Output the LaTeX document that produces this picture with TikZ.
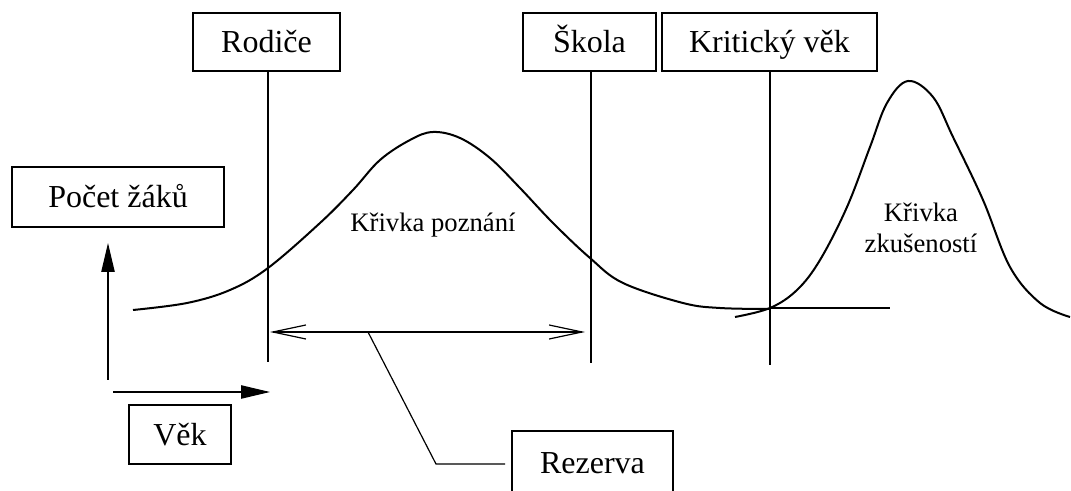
\documentclass[tikz,border=0pt]{standalone}
\usepackage{fontspec}
\setmainfont{Liberation Serif}
\usetikzlibrary{arrows.meta}
\tikzset{
  lbox/.style={draw, line width=1.2pt, inner sep=0pt, font=\fontsize{24}{28}\selectfont,
    text height=16.5pt, text depth=0pt, minimum height=43.5pt},
  vline/.style={line width=0.9pt},
  curve/.style={line width=1.5pt, line join=round},
  axis/.style={line width=1pt, -{Triangle[length=21.75pt,width=10pt]}},
  span/.style={line width=0.9pt, {Straight Barb[length=24.75pt,width=10.5pt]}-{Straight Barb[length=24.75pt,width=10.5pt]}},
  clabel/.style={font=\fontsize{20}{23.5}\selectfont, align=center, inner sep=0pt}
}
\begin{document}
\begin{tikzpicture}[x=0.75pt,y=-0.75pt]
\useasboundingbox (0,0) rectangle (1071,491);
\clip (0,0) rectangle (1071,491);
% boxes
\node[lbox, minimum width=110.25pt] (rod) at (266.5,42) {Rodiče};
\node[lbox, minimum width=99.75pt] (sko) at (589.5,42) {Škola};
\node[lbox, minimum width=161.25pt] (krit) at (769.5,42) {Kritický věk};
\node[lbox, minimum width=159pt, minimum height=45pt] (pocet) at (118,197) {Počet žáků};
\node[lbox, minimum width=76.5pt, minimum height=44.25pt] (vek) at (180,434.5) {Věk};
\node[lbox, minimum width=120.75pt, minimum height=48pt] (rez) at (592.5,463) {Rezerva};
% vertical lines
\coordinate (rodB) at (268,362);
\coordinate (skoB) at (591,363);
\coordinate (kritB) at (770,365);
\draw[vline] (rod.south -| rodB) -- (rodB);
\draw[vline] (sko.south -| skoB) -- (skoB);
\draw[vline] (krit.south -| kritB) -- (kritB);
% axes
\coordinate (yA) at (108,380);
\coordinate (yB) at (108,243);
\coordinate (xA) at (113,392);
\coordinate (xB) at (270,392);
\draw[axis] (yA) -- (yB);
\draw[axis] (xA) -- (xB);
% reserve span
\coordinate (sL) at (270,332);
\coordinate (sR) at (585,332);
\draw[span] (sL) -- (sR);
\coordinate (l1) at (368,332);
\coordinate (l2) at (436,464);
\coordinate (l3) at (505,464);
\draw[vline] (l1) -- (l2) -- (l3);
% curve of knowledge
\draw[curve] plot[smooth, tension=0.6] coordinates {
 (133,310) (187,303) (230,290) (268,268) (320,223) (353,190) (380,160)
 (410,140) (433,132) (460,138) (490,158) (520,188) (553,223) (590,258)
 (623,283) (683,303) (720,308) (770,309)};
% horizontal line
\coordinate (hA) at (770,308);
\coordinate (hB) at (890,308);
\draw[vline] (hA) -- (hB);
% curve of experience
\draw[curve] plot[smooth, tension=0.6] coordinates {
 (735,317) (770,308) (797,290) (820,260) (847,207) (870,147) (887,103)
 (908,81) (933,97) (953,137) (983,200) (1010,267) (1040,303) (1070,317)};
% labels
\node[clabel] (kp) at (433,225) {Křivka poznání};
\node[clabel] (kz) at (921,228) {Křivka\\zkušeností};
\end{tikzpicture}
\end{document}
